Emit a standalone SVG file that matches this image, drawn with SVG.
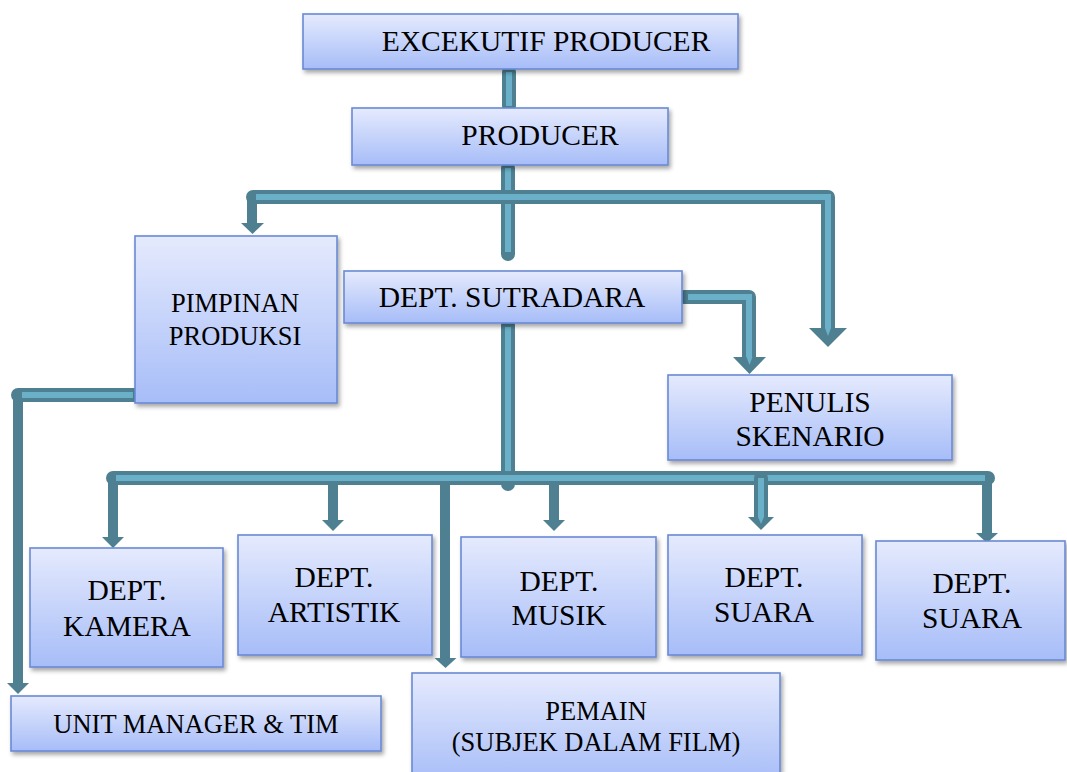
<svg xmlns="http://www.w3.org/2000/svg" width="1067" height="772" viewBox="0 0 1067 772">
<defs>
<linearGradient id="g" x1="0" y1="0" x2="0" y2="1">
<stop offset="0" stop-color="#e5eafd"/>
<stop offset="1" stop-color="#a7bdf8"/>
</linearGradient>
<filter id="sh" x="-10%" y="-10%" width="130%" height="140%">
<feDropShadow dx="2" dy="3" stdDeviation="2" flood-color="#000" flood-opacity="0.35"/>
</filter>
<style>
.box{fill:url(#g);stroke:#6a8ad4;stroke-width:1.6;filter:url(#sh)}
.t{font-size:29.5px;fill:#000;text-anchor:middle}
.s{font-size:26.5px}
.po{fill:none;stroke:#4e8091;stroke-width:14;stroke-linejoin:round;stroke-linecap:round}
.pi{fill:none;stroke:#69b0c8;stroke-width:6;stroke-linejoin:miter;stroke-linecap:butt}
.so{fill:none;stroke:#4e8091;stroke-width:10;stroke-linejoin:round}
.ah{fill:#4e8091}
.ai{fill:#69b0c8}
</style>
</defs>
<rect width="1067" height="772" fill="#fff"/>
<g id="connectors">
<path class="po" d="M509 72 V106"/>
<path class="pi" d="M509 72 V106"/>
<path class="po" d="M508 168 V254"/>
<path class="pi" d="M508 168 V252"/>
<path class="so" d="M252 197 V224"/>
<polygon class="ah" points="241,223 264,223 252.5,234"/>
<path class="po" d="M253 197 H828 V329"/>
<path class="pi" d="M256 197 H828 V330"/>
<polygon class="ah" points="809,328 847,328 828,347"/>
<polygon class="ai" points="825,328 831,328 828,336"/>
<path class="po" d="M684 297 H749 V358"/>
<path class="pi" d="M688 297 H749 V358"/>
<polygon class="ah" points="733,357 766,357 749.5,374"/>
<polygon class="ai" points="746.5,357 752.5,357 749.5,365"/>
<path class="po" d="M508 325 V484"/>
<path class="pi" d="M508 327 V482"/>
<path class="so" d="M113 478 V538"/>
<polygon class="ah" points="102,537 124,537 113,548"/>
<path class="so" d="M333 478 V521"/>
<polygon class="ah" points="322,520 344,520 333,531"/>
<path class="so" d="M554 478 V521"/>
<polygon class="ah" points="543,520 565,520 554,531"/>
<path class="so" d="M445 478 V659"/>
<polygon class="ah" points="434.5,658 456.5,658 445.5,668"/>
<path class="so" d="M987 478 V534"/>
<polygon class="ah" points="976,533 998,533 987,543"/>
<path class="po" d="M113 478 H988"/>
<path class="pi" d="M116 478 H985"/>
<path class="po" d="M761 478 V518"/>
<path class="pi" d="M761 478 V518"/>
<polygon class="ah" points="748,517 774,517 761,530"/>
<polygon class="ai" points="758,517 764,517 761,524"/>
<path class="so" d="M18 395 V684"/>
<polygon class="ah" points="7,683 29,683 18,694"/>
<path class="po" d="M137 395 H18"/>
<path class="pi" d="M133 395 H22"/>
</g>
<g id="n-exec">
<rect class="box" x="303" y="14" width="435" height="55"/>
<text class="t" font-family="Liberation Serif, serif" x="546" y="51">EXCEKUTIF PRODUCER</text>
</g>
<g id="n-producer">
<rect class="box" x="352" y="108" width="316" height="57"/>
<text class="t" font-family="Liberation Serif, serif" x="540" y="145">PRODUCER</text>
</g>
<g id="n-pimpinan">
<rect class="box" x="135" y="236" width="202" height="167"/>
<text class="t s" font-family="Liberation Serif, serif" x="235" y="312">PIMPINAN</text>
<text class="t s" font-family="Liberation Serif, serif" x="235" y="345">PRODUKSI</text>
</g>
<g id="n-sutradara">
<rect class="box" x="344" y="271" width="338" height="52"/>
<text class="t" font-family="Liberation Serif, serif" x="512" y="307">DEPT. SUTRADARA</text>
</g>
<g id="n-penulis">
<rect class="box" x="668" y="375" width="284" height="85"/>
<text class="t" font-family="Liberation Serif, serif" x="810" y="412">PENULIS</text>
<text class="t" font-family="Liberation Serif, serif" x="810" y="446">SKENARIO</text>
</g>
<g id="n-kamera">
<rect class="box" x="30" y="548" width="193" height="119"/>
<text class="t" font-family="Liberation Serif, serif" x="127" y="600">DEPT.</text>
<text class="t" font-family="Liberation Serif, serif" x="127" y="636">KAMERA</text>
</g>
<g id="n-artistik">
<rect class="box" x="238" y="535" width="194" height="120"/>
<text class="t" font-family="Liberation Serif, serif" x="334" y="587">DEPT.</text>
<text class="t" font-family="Liberation Serif, serif" x="334" y="622">ARTISTIK</text>
</g>
<g id="n-musik">
<rect class="box" x="461" y="537" width="195" height="120"/>
<text class="t" font-family="Liberation Serif, serif" x="559" y="591">DEPT.</text>
<text class="t" font-family="Liberation Serif, serif" x="559" y="625">MUSIK</text>
</g>
<g id="n-suara1">
<rect class="box" x="668" y="535" width="194" height="120"/>
<text class="t" font-family="Liberation Serif, serif" x="764" y="587">DEPT.</text>
<text class="t" font-family="Liberation Serif, serif" x="764" y="622">SUARA</text>
</g>
<g id="n-suara2">
<rect class="box" x="876" y="541" width="189" height="119"/>
<text class="t" font-family="Liberation Serif, serif" x="972" y="593">DEPT.</text>
<text class="t" font-family="Liberation Serif, serif" x="972" y="628">SUARA</text>
</g>
<g id="n-unit">
<rect class="box" x="11" y="696" width="370" height="55"/>
<text class="t s" font-family="Liberation Serif, serif" x="196" y="733">UNIT MANAGER &amp; TIM</text>
</g>
<g id="n-pemain">
<rect class="box" x="412" y="673" width="368" height="110"/>
<text class="t s" font-family="Liberation Serif, serif" x="596" y="720">PEMAIN</text>
<text class="t s" font-family="Liberation Serif, serif" x="596" y="751">(SUBJEK DALAM FILM)</text>
</g>
</svg>
